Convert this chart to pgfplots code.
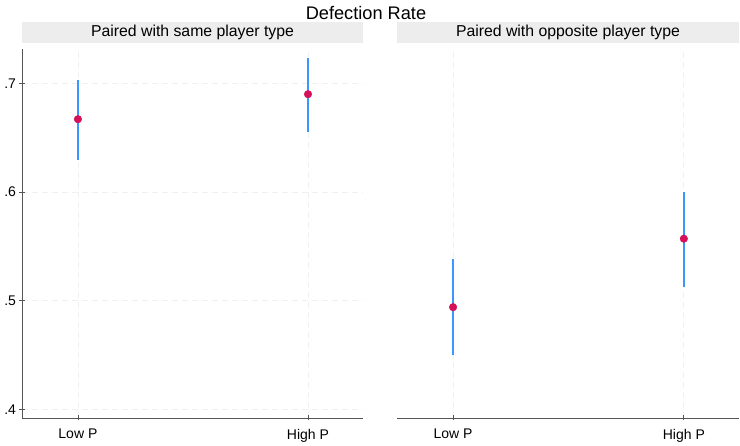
\documentclass[border=0pt]{standalone}
\usepackage{pgfplots}
\pgfplotsset{compat=1.18}
\usepackage{fontspec}
\setmainfont{Liberation Sans}

\definecolor{cibar}{RGB}{60,150,255}
\definecolor{meanpt}{RGB}{212,17,89}
\definecolor{stripgray}{RGB}{237,237,237}
\definecolor{gridgray}{RGB}{240,240,240}
\definecolor{axisgray}{RGB}{85,85,85}

\pgfplotsset{
  panel/.style={
    scale only axis, width=341pt, height=369pt,
    xmin=-0.243, xmax=1.239, ymin=0.392, ymax=0.7316,
    xtick={0,1}, xticklabels={Low P, High P},
    ytick={0.4,0.5,0.6,0.7},
    grid=major,
    major grid style={gridgray, dash pattern=on 6pt off 4pt, line width=0.8pt},
    tick align=outside, major tick length=5pt,
    tick style={axisgray, line width=0.8pt},
    axis line style={axisgray, line width=0.9pt},
    axis x line=bottom,
    x axis line style={-},
    tick label style={font=\fontsize{14}{14}\selectfont},
    /pgf/number format/assume math mode=true,
    xticklabel style={yshift=-5pt},
    title style={at={(0.5,1)}, anchor=south, fill=stripgray,
      minimum width=341pt, minimum height=21pt, inner sep=0pt,
      font=\fontsize{15.8}{16}\selectfont},
    clip=false,
  },
  cistyle/.style={draw=none, mark=none, forget plot,
    error bars/.cd, y dir=both, y explicit,
    error mark=none, error bar style={cibar, line width=1.8pt}},
  ptstyle/.style={only marks, mark=*, mark size=3.8pt,
    mark options={fill=meanpt, draw=meanpt}},
}

\begin{document}
\begin{tikzpicture}[x=1pt,y=1pt]
\useasboundingbox (0,0) rectangle (740,446);
\node[font=\fontsize{18.2}{18}\selectfont] at (366,433) {Defection Rate};

% same player type
\begin{axis}[panel, at={(22pt,28pt)}, anchor=south west,
  axis y line=left, y axis line style={-},
  yticklabels={.4,.5,.6,.7},
  title={Paired with same player type}]
  \addplot+[cistyle] coordinates {
    (0,0.667) += (0,0.036) -= (0,0.038)
    (1,0.690) += (0,0.033) -= (0,0.035)
  };
  \addplot+[ptstyle] coordinates {(0,0.667) (1,0.690)};
\end{axis}

% opposite player type
\begin{axis}[panel, at={(397pt,28pt)}, anchor=south west,
  width=342pt,
  axis y line=none, yticklabels={},
  title style={minimum width=342pt},
  title={Paired with opposite player type}]
  \addplot+[cistyle] coordinates {
    (0,0.494) += (0,0.044) -= (0,0.044)
    (1,0.557) += (0,0.043) -= (0,0.044)
  };
  \addplot+[ptstyle] coordinates {(0,0.494) (1,0.557)};
\end{axis}
\end{tikzpicture}
\end{document}
